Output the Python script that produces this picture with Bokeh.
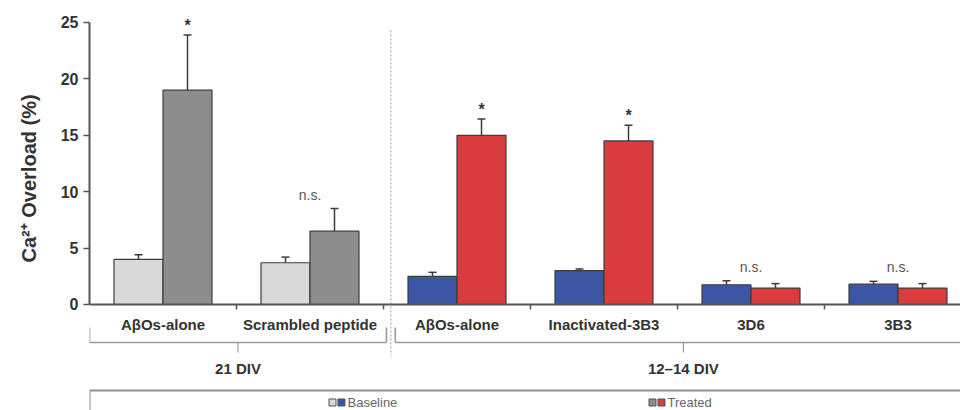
from bokeh.plotting import figure
from bokeh.models import Range1d, ColumnDataSource, Whisker, TeeHead, FixedTicker, Title
from bokeh.core.properties import value
from bokeh.embed import file_html
from bokeh.resources import INLINE

# Ca2+ overload per condition, mean and SEM (%)
categories = ["AβOs-alone", "Scrambled peptide", "AβOs-alone", "Inactivated-3B3", "3D6", "3B3"]
baseline = [4.0, 3.7, 2.5, 3.0, 1.75, 1.8]
baseline_err = [0.4, 0.5, 0.35, 0.15, 0.35, 0.25]
treated = [19.0, 6.5, 15.0, 14.5, 1.45, 1.45]
treated_err = [4.9, 2.0, 1.45, 1.4, 0.4, 0.4]
significance = ["*", "n.s.", "*", "*", "n.s.", "n.s."]

# culture age groups (indices into categories)
culture_groups = ["21 DIV", "12–14 DIV"]
group_members = [[0, 1], [2, 3, 4, 5]]
y_ticks = [0, 5, 10, 15, 20, 25]

FONT = "Liberation Sans"
base_colors = ["#d9d9d9", "#3c55a5"]
treat_colors = ["#8d8d8d", "#d93c3c"]
edge = "#3d3d3d"
bar_w = 1 / 3

n = len(categories)
group_of = [0] * n
for g, members in enumerate(group_members):
    for i in members:
        group_of[i] = g

xs = list(range(n))
base_x = [x - bar_w / 2 for x in xs]
treat_x = [x + bar_w / 2 for x in xs]

p = figure(width=960, height=410, output_backend="svg", toolbar_location=None,
           x_range=Range1d(-0.5, -0.5 + 871 / 147), y_range=Range1d(-9.40, 26.95),
           min_border_left=89, min_border_right=0, min_border_top=0, min_border_bottom=0)
p.outline_line_color = None
p.grid.visible = False
p.background_fill_color = "white"

# bars
src_b = ColumnDataSource(dict(x=base_x, top=baseline,
                              upper=[v + e for v, e in zip(baseline, baseline_err)],
                              color=[base_colors[group_of[i]] for i in xs]))
src_t = ColumnDataSource(dict(x=treat_x, top=treated,
                              upper=[v + e for v, e in zip(treated, treated_err)],
                              color=[treat_colors[group_of[i]] for i in xs]))
for src in (src_b, src_t):
    p.vbar(x="x", top="top", bottom=0, width=bar_w, source=src,
           fill_color="color", line_color=edge, line_width=1.2)
    p.add_layout(Whisker(base="x", lower="top", upper="upper", source=src,
                         dimension="height", line_color=edge, line_width=1.5,
                         upper_head=TeeHead(size=8, line_color=edge, line_width=1.5),
                         lower_head=None))

# significance marks above each group
sig_x, sig_y, star_x, star_y = [], [], [], []
for i in xs:
    top = max(baseline[i] + baseline_err[i], treated[i] + treated_err[i])
    if significance[i] == "*":
        star_x.append(treat_x[i]); star_y.append(top)
    else:
        sig_x.append(xs[i]); sig_y.append(top)
p.text(x=star_x, y=star_y, text=["*"] * len(star_x), text_font=value(FONT),
       text_font_style="bold", text_font_size="16px", text_color="#333333",
       text_align="center", text_baseline="bottom", y_offset=-1)
p.text(x=sig_x, y=sig_y, text=["n.s."] * len(sig_x), text_font=value(FONT),
       text_font_size="14px", text_color="#555555",
       text_align="center", text_baseline="bottom", y_offset=-6)

# separator between culture ages
sep = (group_members[0][-1] + group_members[1][0]) / 2 + 0.05
p.segment(x0=[sep], y0=[24.3], x1=[sep], y1=[-4.52], line_color="#b0b0b0",
          line_width=1.3, line_dash="2 2")

# brackets under the category labels
gap = 0.03
bx0 = [-0.5, sep + gap]
bx1 = [sep - gap, group_members[1][-1] + 0.5]
bc = [(a + b) / 2 for a, b in zip(bx0, bx1)]
br_col = "#9a9a9a"
p.segment(x0=bx0, y0=[-3.37] * 2, x1=bx1, y1=[-3.37] * 2, line_color=br_col, line_width=1.6)
p.segment(x0=bx0 + bx1, y0=[-3.37] * 4, x1=bx0 + bx1, y1=[-2.04] * 4, line_color=br_col, line_width=1.6)
p.segment(x0=bc, y0=[-3.37] * 2, x1=bc, y1=[-4.26] * 2, line_color=br_col, line_width=1.2)
p.text(x=bc, y=[-5.67] * 2, text=culture_groups, text_font=value(FONT),
       text_font_style="bold", text_font_size="15px", text_color="#333333",
       text_align="center", text_baseline="middle")

# legend box with paired swatches
p.quad(left=[-0.5], right=[7], top=[-7.62], bottom=[-12], fill_color=None,
       line_color="#8f8f8f", line_width=2)
leg_y = -8.69
p.scatter(x=[1.153, 3.33], y=[leg_y] * 2, marker="square", size=7,
          fill_color=[base_colors[0], treat_colors[0]], line_color="#555555", line_width=1)
p.scatter(x=[1.214, 3.391], y=[leg_y] * 2, marker="square", size=7,
          fill_color=[base_colors[1], treat_colors[1]], line_color="#555555", line_width=1)
p.text(x=[1.255, 3.432], y=[leg_y] * 2, text=["Baseline", "Treated"], text_font=value(FONT),
       text_font_size="13px", text_color="#666666", text_align="left", text_baseline="middle")

# x axis sits at y = 0 inside the frame
xa = p.xaxis[0]
xa.fixed_location = 0
xa.bounds = (-0.5, n)
xa.ticker = FixedTicker(ticks=xs, minor_ticks=[x + 0.5 for x in xs[:-1]])
xa.major_label_overrides = {i: c for i, c in enumerate(categories)}
xa.major_tick_out = 0
xa.major_tick_in = 0
xa.minor_tick_out = 5
xa.minor_tick_in = 0
xa.minor_tick_line_color = "#555555"
xa.minor_tick_line_width = 1.5
xa.axis_line_color = "#555555"
xa.axis_line_width = 2
xa.major_label_standoff = 7
xa.major_label_text_font = FONT
xa.major_label_text_font_style = "bold"
xa.major_label_text_font_size = "15px"
xa.major_label_text_color = "#333333"

ya = p.yaxis[0]
ya.bounds = (0, 25)
ya.ticker = FixedTicker(ticks=y_ticks)
ya.minor_tick_line_color = None
ya.major_tick_out = 6
ya.major_tick_in = 0
ya.major_tick_line_color = "#555555"
ya.major_tick_line_width = 1.5
ya.axis_line_color = "#555555"
ya.axis_line_width = 2
ya.major_label_standoff = 5
ya.major_label_text_font = FONT
ya.major_label_text_font_style = "bold"
ya.major_label_text_font_size = "16px"
ya.major_label_text_color = "#333333"

# y axis title, placed beside the value span
p.add_layout(Title(text="Ca²⁺ Overload (%)", align="left", offset=148, vertical_align="top",
                   text_font=FONT, text_font_style="bold", text_font_size="20px",
                   text_color="#333333", standoff=32), "left")

open("out.html", "w").write(file_html(p, INLINE))
